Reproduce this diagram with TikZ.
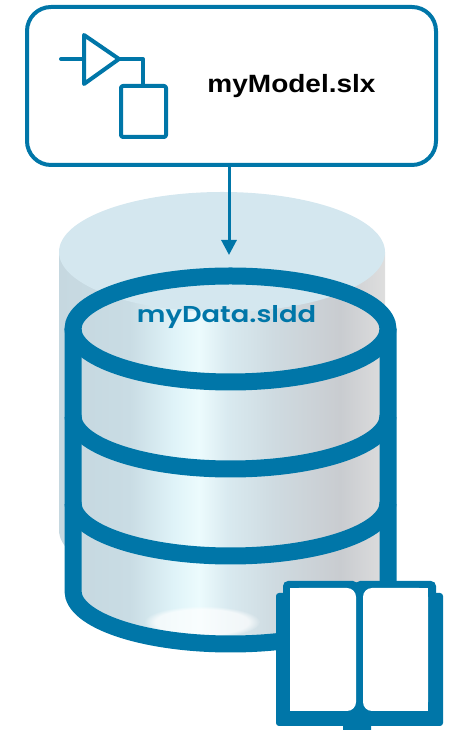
\documentclass[tikz,border=0pt]{standalone}
\usepackage{fontspec}
\setmainfont{Liberation Sans}
\newfontfamily\datafont{Poppins SemiBold}
\usetikzlibrary{arrows.meta,fadings}

\definecolor{mwblue}{HTML}{0076A8}
\definecolor{lidblue}{HTML}{D4E7EF}
\definecolor{sa}{HTML}{C6D8E0}
\definecolor{sb}{HTML}{C9DCE4}
\definecolor{sc}{HTML}{DFF3F8}
\definecolor{sd}{HTML}{ECFBFD}
\definecolor{se}{HTML}{D9EAF0}
\definecolor{sf}{HTML}{CFDBE1}
\definecolor{sg}{HTML}{C9CCD0}
\definecolor{sh}{HTML}{DEDEDE}

% metallic side of the cylinder, left to right
\pgfdeclarehorizontalshading{cylbody}{100bp}{color(0bp)=(sa); color(25bp)=(sa); color(34bp)=(sb); color(41bp)=(sc); color(45bp)=(sd); color(49.5bp)=(se); color(56.7bp)=(sf); color(67.4bp)=(sg); color(75bp)=(sh); color(100bp)=(sh)}

\tikzset{
  iconline/.style={draw=mwblue, line width=4pt, line join=round, line cap=round},
  ring/.style={draw=mwblue, line width=17pt},
  modelbox/.style={draw=mwblue, line width=4pt, rounded corners=24pt, minimum width=409pt, minimum height=158pt, inner sep=0pt},
  linkarrow/.style={draw=mwblue, line width=3pt, -{Triangle[width=15pt,length=15pt]}},
}

\begin{document}
\begin{tikzpicture}[x=1pt,y=1pt]
\useasboundingbox (0,0) rectangle (449,730);

% model file box
\node[modelbox] (model) at (231.5,644) {};
\node[anchor=base] (modelname) at (291.5,637) {\fontsize{25}{25}\selectfont\bfseries\scalebox{1.12}[1]{myModel.slx}};

% block icon: gain triangle feeding a block
\draw[iconline] (61,671) -- (84,671);
\draw[iconline] (84,695) -- (119,671) -- (84,646) -- cycle;
\draw[iconline] (119,671) -- (143,671) -- (143,644);
\draw[iconline, rounded corners=2pt] (121,593) rectangle (166,644);

% faded cylinder behind
\shade[shading=cylbody] (59,478) -- (59,200) arc[start angle=180,end angle=360,x radius=163,y radius=60] -- (385,478) -- cycle;

% front cylinder body
\shade[shading=cylbody] (73,401) -- (73,139) arc[start angle=180,end angle=360,x radius=157.5,y radius=53] -- (388,401) arc[start angle=0,end angle=180,x radius=157.5,y radius=53] -- cycle;
\fill[white, opacity=0.7, path fading=circle with fuzzy edge 20 percent] (202,108) ellipse[x radius=58, y radius=16];

% lid of the cylinder behind
\fill[lidblue] (222,478) ellipse[x radius=163, y radius=60];

% rings of the front cylinder
\draw[ring] (230.5,401) ellipse[x radius=157.5, y radius=53];
\draw[ring] (73,401) -- (73,139) arc[start angle=180,end angle=360,x radius=157.5,y radius=53] -- (388,401);
\draw[ring] (73,314) arc[start angle=180,end angle=360,x radius=157.5,y radius=53];
\draw[ring] (73,227) arc[start angle=180,end angle=360,x radius=157.5,y radius=53];

\node[anchor=base, text=mwblue] (dictname) at (226.5,407) {\datafont\fontsize{23}{23}\selectfont\scalebox{1.19}[1]{myData.sldd}};

% link from the model to the dictionary
\coordinate (dictin) at (229,475);
\draw[linkarrow] (model.south -| dictin) -- (dictin);

% open book
\fill[mwblue, rounded corners=3pt] (276,4) rectangle (443,137);
\fill[mwblue, rounded corners=5pt] (283,130) rectangle (358,149);
\fill[mwblue, rounded corners=5pt] (355,130) rectangle (436,149);
\fill[mwblue, rounded corners=3pt] (343,-4) rectangle (371,12);
\fill[white, rounded corners=9pt] (290,19) rectangle (356,142);
\fill[white] (290,19) rectangle (330,142);
\fill[white, rounded corners=9pt] (363,19) rectangle (428,142);
\fill[white] (390,19) rectangle (428,142);
\end{tikzpicture}
\end{document}
